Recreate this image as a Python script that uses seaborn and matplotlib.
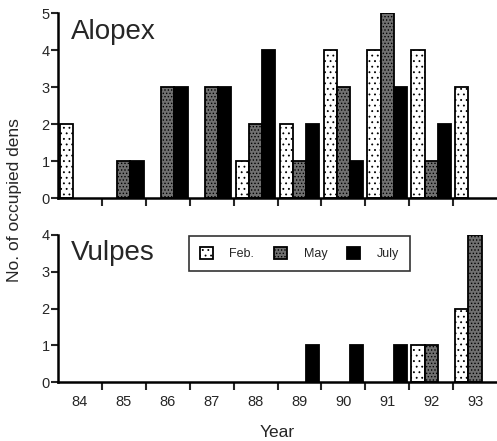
import matplotlib
matplotlib.use("Agg")
import matplotlib.pyplot as plt
import seaborn as sns
import pandas as pd
import numpy as np

years = ["84", "85", "86", "87", "88", "89", "90", "91", "92", "93"]
months = ["Feb.", "May", "July"]
alopex_feb = [2, 0, 0, 0, 1, 2, 4, 4, 4, 3]
alopex_may = [0, 1, 3, 3, 2, 1, 3, 5, 1, 0]
alopex_july = [0, 1, 3, 3, 4, 2, 1, 3, 2, 0]
vulpes_feb = [0, 0, 0, 0, 0, 0, 0, 0, 1, 2]
vulpes_may = [0, 0, 0, 0, 0, 0, 0, 0, 1, 4]
vulpes_july = [0, 0, 0, 0, 0, 1, 1, 1, 0, 0]

def frame(feb, may, july):
    rows = []
    for y, a, b, c in zip(years, feb, may, july):
        rows += [(y, "Feb.", a), (y, "May", b), (y, "July", c)]
    return pd.DataFrame(rows, columns=["Year", "Month", "Dens"])

df_a = frame(alopex_feb, alopex_may, alopex_july)
df_v = frame(vulpes_feb, vulpes_may, vulpes_july)

sns.set_style("white")
plt.rcParams["font.family"] = ["Liberation Sans", "DejaVu Sans"]
plt.rcParams["hatch.linewidth"] = 0.6

fig = plt.figure(figsize=(4.97, 4.41), dpi=100)
ax1 = fig.add_axes([58/497, 1-198/441, 439/497, (198-13)/441])
ax2 = fig.add_axes([58/497, 1-382/441, 439/497, (382-235)/441])

palette = {"Feb.": "white", "May": "#707070", "July": "black"}
hatches = {"Feb.": "...", "May": ".....", "July": ""}

for ax, df, ymax, title in [(ax1, df_a, 5, "Alopex"), (ax2, df_v, 4, "Vulpes")]:
    sns.barplot(data=df, x="Year", y="Dens", hue="Month", hue_order=months,
                order=years, palette=palette, width=0.9, edgecolor="black",
                linewidth=1.3, ax=ax, legend=(ax is ax2), saturation=1)
    for cont, m in zip(ax.containers, months):
        for bar in cont:
            bar.set_hatch(hatches[m])
            if bar.get_height() == 0:
                bar.set_visible(False)
    ax.set_xlim(-0.5, 9.5)
    ax.set_ylim(0, ymax)
    ax.set_yticks(range(ymax + 1))
    ax.set_yticklabels([str(i) for i in range(ymax + 1)], fontsize=10.5)
    ax.set_xticks(np.arange(0.5, 9.0, 1.0))
    ax.set_xticklabels([])
    ax.set_xticks(range(10), minor=True)
    ax.tick_params(axis="x", which="major", direction="out", length=6, width=1.5, bottom=True)
    ax.tick_params(axis="x", which="minor", length=0, pad=9, labelsize=10.5, bottom=True)
    ax.tick_params(axis="y", direction="out", length=5, width=1.5, left=True, pad=1)
    for s in ["top", "right"]:
        ax.spines[s].set_visible(False)
    for s in ["left", "bottom"]:
        ax.spines[s].set_linewidth(1.8)
        ax.spines[s].set_color("black")
    ax.set_xlabel("")
    ax.set_ylabel("")
    ax.text(0.03, 0.965, title, transform=ax.transAxes, fontsize=20,
            va="top", ha="left")

ax1.set_xticklabels([], minor=True)
ax2.set_xticklabels(years, minor=True)

ax2.set_xlabel("Year", fontsize=12.5, labelpad=12)

handles, labels = ax2.get_legend_handles_labels()
for h, m in zip(handles, months):
    h.set_hatch(hatches[m])
ax2.legend(handles, labels, loc="upper left", bbox_to_anchor=(0.298, 0.995),
           ncol=3, fontsize=9, frameon=True, fancybox=False, edgecolor="black",
           borderaxespad=0, handlelength=1.05, handleheight=1.05, columnspacing=1.6,
           handletextpad=1.3, borderpad=0.9)
ax2.get_legend().get_frame().set_linewidth(1.2)

fig.text(15/497, 1-200/441, "No. of occupied dens", rotation=90, fontsize=12.5,
         ha="center", va="center")

fig.savefig("out.png", dpi=100)
